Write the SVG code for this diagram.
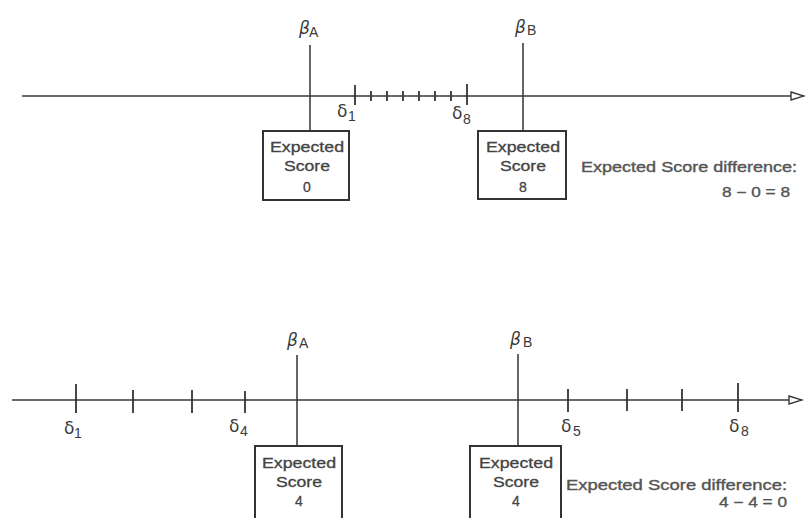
<svg xmlns="http://www.w3.org/2000/svg" width="806" height="518" viewBox="0 0 806 518">
<defs>
<style>
.ax{stroke:#3a3a3a;stroke-width:1.6;fill:none}
.ln{stroke:#333;stroke-width:1.5;fill:none}
.tk{stroke:#333;stroke-width:1.8;fill:none}
.bx{stroke:#333;stroke-width:2;fill:#fff}
.bt{font-family:"Liberation Sans",Arial,sans-serif;font-size:14px;fill:#444;stroke:#444;stroke-width:0.3;text-anchor:middle}
.dt{font-family:"Liberation Sans",Arial,sans-serif;font-size:14px;fill:#555;stroke:#555;stroke-width:0.35}
.gr{font-family:"DejaVu Sans","Liberation Sans",sans-serif;font-size:17px;fill:#3a3a3a;font-style:italic}
.dl{font-family:"DejaVu Sans","Liberation Sans",sans-serif;font-size:17px;fill:#3a3a3a}
.sb{font-family:"Liberation Sans",Arial,sans-serif;font-size:14px;fill:#3a3a3a}
</style>
<marker id="arr" markerWidth="16" markerHeight="10" refX="14" refY="5" orient="auto" markerUnits="userSpaceOnUse">
<path d="M1,1 L14,5 L1,9 Z" fill="#fff" stroke="#3a3a3a" stroke-width="1.4"/>
</marker>
</defs>
<rect width="806" height="518" fill="#fff"/>

<g id="connectors">
<line class="ax" x1="22" y1="96" x2="804" y2="96" marker-end="url(#arr)"/>
<line class="ln" x1="310" y1="45" x2="310" y2="131"/>
<line class="ln" x1="523" y1="43" x2="523" y2="131"/>
<line class="ax" x1="12" y1="400" x2="802" y2="400" marker-end="url(#arr)"/>
<line class="ln" x1="297" y1="355" x2="297" y2="446"/>
<line class="ln" x1="518" y1="354" x2="518" y2="446"/>
</g>

<g id="ticks-top">
<line class="tk" x1="355" y1="85" x2="355" y2="105"/>
<line class="tk" x1="371" y1="91" x2="371" y2="101"/>
<line class="tk" x1="387" y1="91" x2="387" y2="101"/>
<line class="tk" x1="403" y1="91" x2="403" y2="101"/>
<line class="tk" x1="419" y1="91" x2="419" y2="101"/>
<line class="tk" x1="435" y1="91" x2="435" y2="101"/>
<line class="tk" x1="451" y1="91" x2="451" y2="101"/>
<line class="tk" x1="467" y1="84" x2="467" y2="105"/>
</g>

<g id="ticks-bottom">
<line class="tk" x1="76" y1="384" x2="76" y2="413"/>
<line class="tk" x1="133" y1="390" x2="133" y2="413"/>
<line class="tk" x1="192" y1="390" x2="192" y2="413"/>
<line class="tk" x1="245" y1="391" x2="245" y2="413"/>
<line class="tk" x1="568" y1="389" x2="568" y2="412"/>
<line class="tk" x1="627" y1="389" x2="627" y2="411"/>
<line class="tk" x1="682" y1="389" x2="682" y2="411"/>
<line class="tk" x1="738" y1="383" x2="738" y2="412"/>
</g>

<g id="beta-a-top">
<text class="gr" x="299" y="34">β</text><text class="sb" x="309" y="37">A</text>
</g>
<g id="beta-b-top">
<text class="gr" x="515" y="33">β</text><text class="sb" x="527" y="35">B</text>
</g>
<g id="delta1-top">
<text class="dl" x="337" y="117">δ</text><text class="sb" x="348" y="121">1</text>
</g>
<g id="delta8-top">
<text class="dl" x="452" y="119">δ</text><text class="sb" x="463" y="124">8</text>
</g>

<g id="box-a-top">
<rect class="bx" x="263" y="131" width="86" height="69"/>
<text class="bt" x="307" y="152" textLength="74" lengthAdjust="spacingAndGlyphs">Expected</text>
<text class="bt" x="307" y="171" textLength="46" lengthAdjust="spacingAndGlyphs">Score</text>
<text class="bt" x="307" y="192">0</text>
</g>
<g id="box-b-top">
<rect class="bx" x="478" y="131" width="88" height="68"/>
<text class="bt" x="523" y="152" textLength="74" lengthAdjust="spacingAndGlyphs">Expected</text>
<text class="bt" x="523" y="171" textLength="46" lengthAdjust="spacingAndGlyphs">Score</text>
<text class="bt" x="523" y="192">8</text>
</g>
<g id="diff-top">
<text class="dt" x="581" y="172" textLength="216" lengthAdjust="spacingAndGlyphs">Expected Score difference:</text>
<text class="dt" x="722" y="197" textLength="68" lengthAdjust="spacingAndGlyphs">8 − 0 = 8</text>
</g>

<g id="beta-a-bottom">
<text class="gr" x="287" y="346">β</text><text class="sb" x="299" y="348">A</text>
</g>
<g id="beta-b-bottom">
<text class="gr" x="510" y="345">β</text><text class="sb" x="523" y="347">B</text>
</g>
<g id="delta1-bottom">
<text class="dl" x="64" y="434">δ</text><text class="sb" x="74" y="438">1</text>
</g>
<g id="delta4-bottom">
<text class="dl" x="229" y="432">δ</text><text class="sb" x="240" y="436">4</text>
</g>
<g id="delta5-bottom">
<text class="dl" x="561" y="432">δ</text><text class="sb" x="573" y="436">5</text>
</g>
<g id="delta8-bottom">
<text class="dl" x="729" y="432">δ</text><text class="sb" x="741" y="436">8</text>
</g>

<g id="box-a-bottom">
<rect class="bx" x="255" y="446" width="87" height="80"/>
<text class="bt" x="299" y="468" textLength="74" lengthAdjust="spacingAndGlyphs">Expected</text>
<text class="bt" x="299" y="487" textLength="46" lengthAdjust="spacingAndGlyphs">Score</text>
<text class="bt" x="299" y="506">4</text>
</g>
<g id="box-b-bottom">
<rect class="bx" x="470" y="446" width="91" height="80"/>
<text class="bt" x="516" y="468" textLength="74" lengthAdjust="spacingAndGlyphs">Expected</text>
<text class="bt" x="516" y="487" textLength="46" lengthAdjust="spacingAndGlyphs">Score</text>
<text class="bt" x="516" y="506">4</text>
</g>
<g id="diff-bottom">
<text class="dt" x="566" y="490" textLength="221" lengthAdjust="spacingAndGlyphs">Expected Score difference:</text>
<text class="dt" x="719" y="507" textLength="68" lengthAdjust="spacingAndGlyphs">4 − 4 = 0</text>
</g>
</svg>
